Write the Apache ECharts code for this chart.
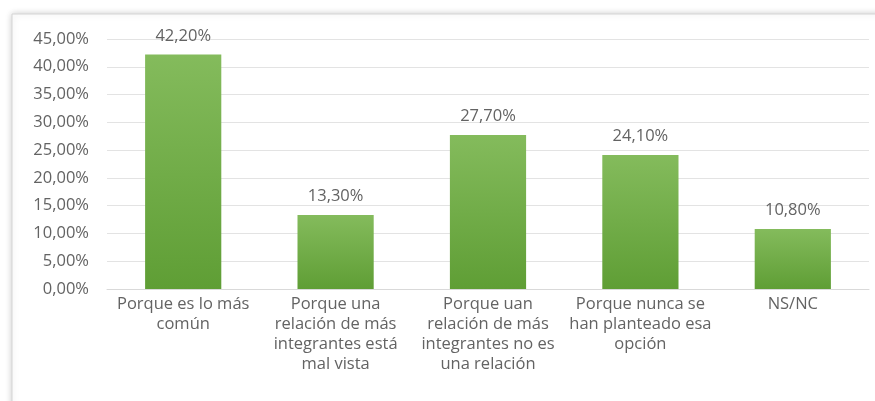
<!DOCTYPE html>
<html>
<head>
<meta charset="utf-8">
<script src="https://cdn.jsdelivr.net/npm/echarts@6/dist/echarts.min.js"></script>
<style>
  html, body { margin: 0; padding: 0; background: #fff; }
  #main { width: 875px; height: 401px; }
</style>
</head>
<body>
<div id="main"></div>
<script>
// categorias (saltos de linea como en el original)
var categorias = [
  'Porque es lo más\ncomún',
  'Porque una\nrelación de más\nintegrantes está\nmal vista',
  'Porque uan\nrelación de más\nintegrantes no es\nuna relación',
  'Porque nunca se\nhan planteado esa\nopción',
  'NS/NC'
];
var porcentajes = [42.2, 13.3, 27.7, 24.1, 10.8];
var ejeMax = 45;
var ejePaso = 5;

function fmt(v) {
  return v.toFixed(2).replace('.', ',') + '%';
}

var chart = echarts.init(document.getElementById('main'));
var fuente = '"Open Sans", sans-serif';

var option = {
  animation: false,
  textStyle: { fontFamily: fuente },
  graphic: [
    {
      type: 'rect',
      z: -100,
      silent: true,
      shape: { x: 12, y: 14, width: 880, height: 400 },
      style: {
        fill: '#fff',
        stroke: '#d4d4d4',
        lineWidth: 1,
        shadowBlur: 7,
        shadowColor: 'rgba(0,0,0,0.2)'
      }
    }
  ],
  grid: {
    left: 107,
    right: 6,
    top: 39,
    bottom: 112
  },
  xAxis: {
    type: 'category',
    data: categorias,
    axisTick: { show: false },
    axisLine: { lineStyle: { color: '#d9d9d9' } },
    axisLabel: {
      interval: 0,
      color: '#636363',
      fontSize: 16.5,
      lineHeight: 20,
      margin: 5,
      fontFamily: fuente
    }
  },
  yAxis: {
    type: 'value',
    min: 0,
    max: ejeMax,
    interval: ejePaso,
    axisLine: { show: false },
    axisTick: { show: false },
    splitLine: { lineStyle: { color: '#e3e3e3' } },
    axisLabel: {
      color: '#636363',
      fontSize: 16.5,
      margin: 18,
      fontFamily: fuente,
      formatter: function (v) { return fmt(v); }
    }
  },
  series: [
    {
      type: 'bar',
      data: porcentajes,
      barWidth: '50%',
      itemStyle: {
        color: new echarts.graphic.LinearGradient(0, 0, 0, 1, [
          { offset: 0, color: '#84bb5c' },
          { offset: 1, color: '#5f9e35' }
        ])
      },
      label: {
        show: true,
        position: 'top',
        distance: 10,
        color: '#636363',
        fontSize: 16.5,
        fontFamily: fuente,
        formatter: function (p) { return fmt(p.value); }
      }
    }
  ]
};

chart.setOption(option);
</script>
</body>
</html>
